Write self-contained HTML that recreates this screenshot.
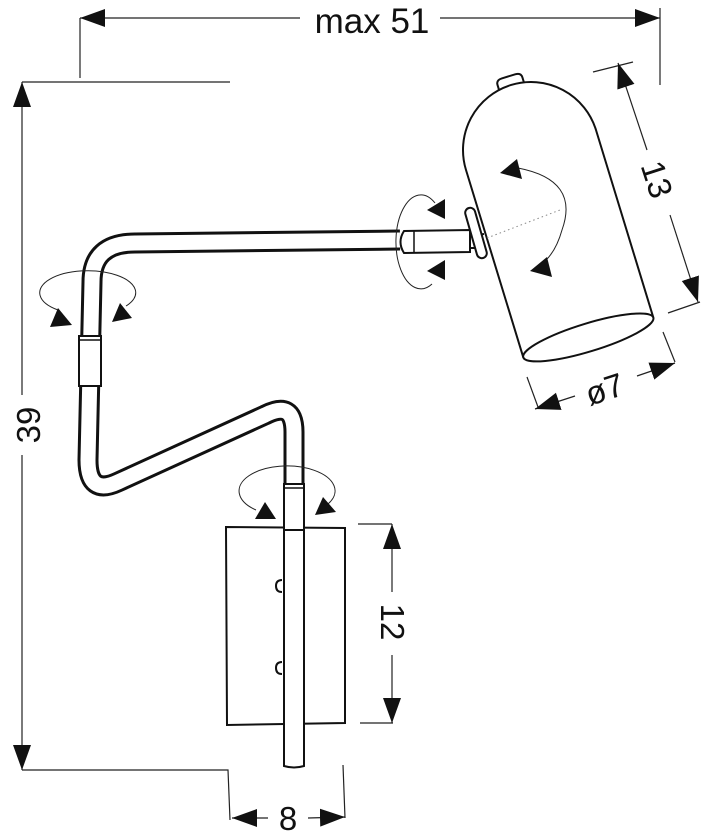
<!DOCTYPE html>
<html><head><meta charset="utf-8"><style>
html,body{margin:0;padding:0;background:#fff;}
svg{display:block;}
text{font-family:"Liberation Sans",Arial,sans-serif;fill:#111;}
</style></head><body>
<svg width="704" height="838" viewBox="0 0 704 838" xmlns="http://www.w3.org/2000/svg">
<defs>
<marker id="ah" markerUnits="userSpaceOnUse" markerWidth="26" markerHeight="20" refX="25" refY="9" orient="auto-start-reverse">
<path d="M0,0 L25,9 L0,18 z" fill="#111"/>
</marker>
</defs>
<g stroke="#222" stroke-width="1.2" fill="none">
<line x1="80" y1="18" x2="300" y2="18" marker-start="url(#ah)"/>
<line x1="440" y1="18" x2="660" y2="18" marker-end="url(#ah)"/>
<line x1="80" y1="18" x2="80" y2="78"/>
<line x1="660" y1="8" x2="660" y2="85"/>
<line x1="22" y1="82" x2="230" y2="82"/>
<line x1="22" y1="82" x2="22" y2="395" marker-start="url(#ah)"/>
<line x1="22" y1="455" x2="22" y2="770" marker-end="url(#ah)"/>
<polyline points="22,770 228,770 230,820"/>
<line x1="343" y1="765" x2="345" y2="818"/>
<line x1="232" y1="818" x2="268" y2="818" marker-start="url(#ah)"/>
<line x1="308" y1="818" x2="345" y2="817" marker-end="url(#ah)"/>
<line x1="358" y1="524" x2="392" y2="524"/>
<line x1="360" y1="723" x2="393" y2="723"/>
<line x1="392" y1="524" x2="392" y2="592" marker-start="url(#ah)"/>
<line x1="392" y1="655" x2="392" y2="723" marker-end="url(#ah)"/>
<line x1="593" y1="72" x2="633" y2="62"/>
<line x1="668" y1="313" x2="700" y2="302"/>
<line x1="618" y1="63" x2="647" y2="150" marker-start="url(#ah)"/>
<line x1="670" y1="215" x2="698" y2="302" marker-end="url(#ah)"/>
<line x1="527" y1="377" x2="538" y2="407"/>
<line x1="663" y1="332" x2="675" y2="362"/>
<line x1="535" y1="409" x2="575" y2="396" marker-start="url(#ah)"/>
<line x1="637" y1="376" x2="675" y2="363" marker-end="url(#ah)"/>
</g>
<text x="372" y="33" font-size="35" text-anchor="middle">max 51</text>
<text transform="translate(40,425) rotate(-90)" font-size="33" text-anchor="middle">39</text>
<text x="288" y="830" font-size="33" text-anchor="middle">8</text>
<text transform="translate(381,622) rotate(90)" font-size="33" text-anchor="middle">12</text>
<text transform="translate(646,183) rotate(72)" font-size="33" text-anchor="middle">13</text>
<text transform="translate(608,400) rotate(-18)" font-size="33" text-anchor="middle">ø7</text>

<path d="M294,492 L294,432 Q294,400 265,415 L118,482 Q88,496 88,460 L92,282 Q92,243 135,243 L400,240" fill="none" stroke="#111" stroke-width="21" stroke-linejoin="round"/>
<path d="M294,492 L294,432 Q294,400 265,415 L118,482 Q88,496 88,460 L92,282 Q92,243 135,243 L400,240" fill="none" stroke="#fff" stroke-width="15" stroke-linejoin="round"/>
<rect x="79" y="336" width="22" height="50" fill="#fff" stroke="#111" stroke-width="2"/>
<line x1="79" y1="340" x2="101" y2="340" stroke="#111" stroke-width="1.5"/>

<path d="M226,527 L345,528 L345,723 L227,725 Z" fill="#fff" stroke="#111" stroke-width="2"/>
<path d="M282,580 Q276,580 276,586 Q276,592 282,592" fill="none" stroke="#111" stroke-width="2"/>
<path d="M282,662 Q276,662 276,668 Q276,674 282,674" fill="none" stroke="#111" stroke-width="2"/>
<path d="M284,484 L304,484 L304,766 Q294,769 284,766 Z" fill="#fff" stroke="#111" stroke-width="2"/>
<line x1="284" y1="488" x2="304" y2="488" stroke="#111" stroke-width="1.5"/>
<line x1="284" y1="530" x2="304" y2="530" stroke="#111" stroke-width="2"/>

<path d="M404,231 L470,230 L470,252 L404,253 Q397,242 404,231 Z" fill="#fff" stroke="#111" stroke-width="2"/>
<line x1="414" y1="231" x2="414" y2="253" stroke="#111" stroke-width="1.5"/>
<line x1="470" y1="236" x2="484" y2="234" stroke="#111" stroke-width="2"/>
<line x1="470" y1="248" x2="484" y2="248" stroke="#111" stroke-width="2"/>

<g transform="translate(531,150) rotate(-17)" stroke="#111" stroke-width="2" fill="#fff">
<path d="M-13,-64 L-13,-72 Q-13,-77 -7,-77 L7,-77 Q13,-77 13,-72 L13,-64"/>
<path d="M-68,196 L-68,0 A68,68 0 0 1 68,0 L68,196"/>
<ellipse cx="0" cy="196" rx="68" ry="14"/>
</g>
<rect x="471" y="207" width="10" height="52" rx="5" fill="#fff" stroke="#111" stroke-width="2" transform="rotate(-16 476 233)"/>
<line x1="487" y1="238" x2="560" y2="210" stroke="#888" stroke-width="1" stroke-dasharray="1.5,3"/>

<g fill="none" stroke="#222" stroke-width="1">
<path d="M58,310 A48,22 0 1 1 126,306"/>
<path d="M256,510 A48,25 0 1 1 328,504"/>
<path d="M435,203 A25,47 0 1 0 432,284"/>
<path d="M518,168 Q580,180 562,230 Q555,255 540,265"/>
</g>
<g fill="#111">
<polygon points="50,327 58,308 72,325"/>
<polygon points="112,322 120,303 132,318"/>
<polygon points="255,519 265,502 276,519"/>
<polygon points="315,515 323,497 336,512"/>
<polygon points="427,210 445,199 445,219"/>
<polygon points="427,271 445,260 445,280"/>
<polygon points="500,173 517,159 522,179"/>
<polygon points="530,271 547,257 552,277"/>
</g>
</svg>
</body></html>
